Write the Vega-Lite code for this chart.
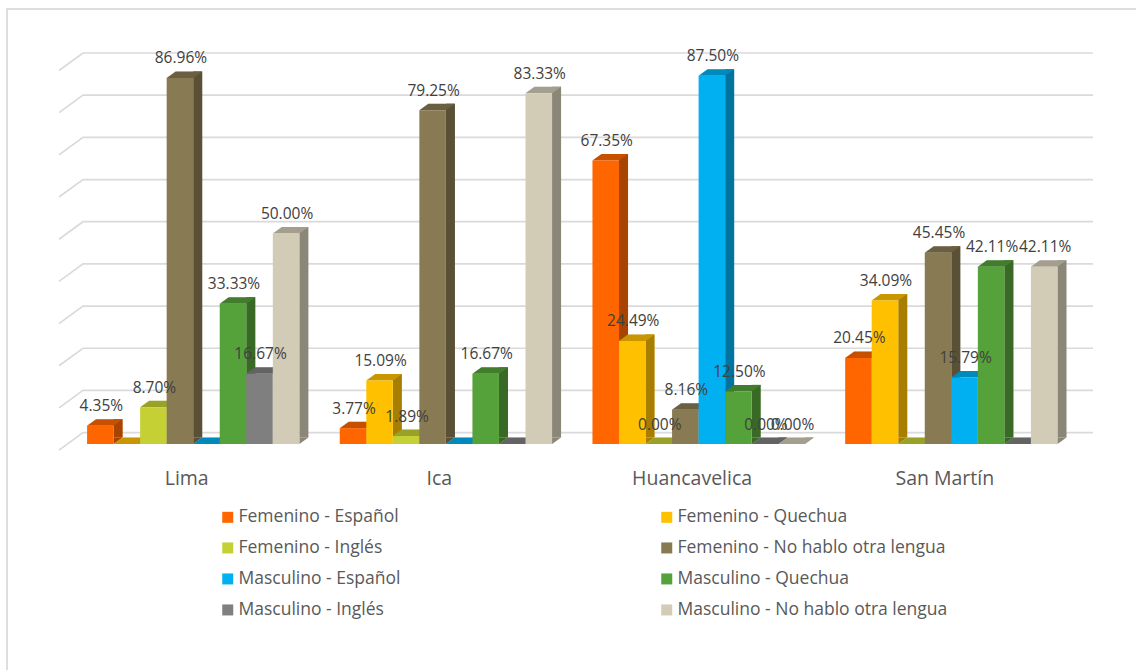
{
  "$schema": "https://vega.github.io/schema/vega-lite/v6.json",
  "autosize": {"type": "none"},
  "padding": {"left": 7, "top": 9, "right": 0, "bottom": 0},
  "width": 1131,
  "height": 663,
  "background": "#FFFFFF",
  "config": {
    "view": {"stroke": "#DEDEDE", "strokeWidth": 2},
    "font": "Open Sans"
  },
  "layer": [
    {
      "data": {"values": [
        {"nivel": 0, "pared": 0, "altura": -4.15}, {"nivel": 0, "pared": 24, "altura": 0}, {"nivel": 0, "pared": 1034, "altura": 0},
        {"nivel": 10, "pared": 0, "altura": 5.85}, {"nivel": 10, "pared": 24, "altura": 10}, {"nivel": 10, "pared": 1034, "altura": 10},
        {"nivel": 20, "pared": 0, "altura": 15.85}, {"nivel": 20, "pared": 24, "altura": 20}, {"nivel": 20, "pared": 1034, "altura": 20},
        {"nivel": 30, "pared": 0, "altura": 25.85}, {"nivel": 30, "pared": 24, "altura": 30}, {"nivel": 30, "pared": 1034, "altura": 30},
        {"nivel": 40, "pared": 0, "altura": 35.85}, {"nivel": 40, "pared": 24, "altura": 40}, {"nivel": 40, "pared": 1034, "altura": 40},
        {"nivel": 50, "pared": 0, "altura": 45.85}, {"nivel": 50, "pared": 24, "altura": 50}, {"nivel": 50, "pared": 1034, "altura": 50},
        {"nivel": 60, "pared": 0, "altura": 55.85}, {"nivel": 60, "pared": 24, "altura": 60}, {"nivel": 60, "pared": 1034, "altura": 60},
        {"nivel": 70, "pared": 0, "altura": 65.85}, {"nivel": 70, "pared": 24, "altura": 70}, {"nivel": 70, "pared": 1034, "altura": 70},
        {"nivel": 80, "pared": 0, "altura": 75.85}, {"nivel": 80, "pared": 24, "altura": 80}, {"nivel": 80, "pared": 1034, "altura": 80},
        {"nivel": 90, "pared": 0, "altura": 85.85}, {"nivel": 90, "pared": 24, "altura": 90}, {"nivel": 90, "pared": 1034, "altura": 90}
      ]},
      "mark": {"type": "line", "color": "#DADADA", "strokeWidth": 1.7, "clip": false},
      "encoding": {
        "x": {"field": "pared", "type": "quantitative", "axis": null, "scale": {"domain": [0, 1034], "range": [52, 1086]}},
        "y": {"field": "altura", "type": "quantitative", "axis": null, "scale": {"domain": [0, 90], "range": [423.6, 44]}},
        "detail": {"field": "nivel"},
        "order": {"field": "pared"}
      }
    },
    {
      "data": {"values": [
        {"region": "Lima", "serie": "Femenino - Español", "valor": 0.0435, "rotulado": true},
        {"region": "Lima", "serie": "Femenino - Quechua", "valor": 0, "rotulado": false},
        {"region": "Lima", "serie": "Femenino - Inglés", "valor": 0.087, "rotulado": true},
        {"region": "Lima", "serie": "Femenino - No hablo otra lengua", "valor": 0.8696, "rotulado": true},
        {"region": "Lima", "serie": "Masculino - Español", "valor": 0, "rotulado": false},
        {"region": "Lima", "serie": "Masculino - Quechua", "valor": 0.3333, "rotulado": true},
        {"region": "Lima", "serie": "Masculino - Inglés", "valor": 0.1667, "rotulado": true},
        {"region": "Lima", "serie": "Masculino - No hablo otra lengua", "valor": 0.5, "rotulado": true},
        {"region": "Ica", "serie": "Femenino - Español", "valor": 0.0377, "rotulado": true},
        {"region": "Ica", "serie": "Femenino - Quechua", "valor": 0.1509, "rotulado": true},
        {"region": "Ica", "serie": "Femenino - Inglés", "valor": 0.0189, "rotulado": true},
        {"region": "Ica", "serie": "Femenino - No hablo otra lengua", "valor": 0.7925, "rotulado": true},
        {"region": "Ica", "serie": "Masculino - Español", "valor": 0, "rotulado": false},
        {"region": "Ica", "serie": "Masculino - Quechua", "valor": 0.1667, "rotulado": true},
        {"region": "Ica", "serie": "Masculino - Inglés", "valor": 0, "rotulado": false},
        {"region": "Ica", "serie": "Masculino - No hablo otra lengua", "valor": 0.8333, "rotulado": true},
        {"region": "Huancavelica", "serie": "Femenino - Español", "valor": 0.6735, "rotulado": true},
        {"region": "Huancavelica", "serie": "Femenino - Quechua", "valor": 0.2449, "rotulado": true},
        {"region": "Huancavelica", "serie": "Femenino - Inglés", "valor": 0, "rotulado": true},
        {"region": "Huancavelica", "serie": "Femenino - No hablo otra lengua", "valor": 0.0816, "rotulado": true},
        {"region": "Huancavelica", "serie": "Masculino - Español", "valor": 0.875, "rotulado": true},
        {"region": "Huancavelica", "serie": "Masculino - Quechua", "valor": 0.125, "rotulado": true},
        {"region": "Huancavelica", "serie": "Masculino - Inglés", "valor": 0, "rotulado": true},
        {"region": "Huancavelica", "serie": "Masculino - No hablo otra lengua", "valor": 0, "rotulado": true},
        {"region": "San Martín", "serie": "Femenino - Español", "valor": 0.2045, "rotulado": true},
        {"region": "San Martín", "serie": "Femenino - Quechua", "valor": 0.3409, "rotulado": true},
        {"region": "San Martín", "serie": "Femenino - Inglés", "valor": 0, "rotulado": false},
        {"region": "San Martín", "serie": "Femenino - No hablo otra lengua", "valor": 0.4545, "rotulado": true},
        {"region": "San Martín", "serie": "Masculino - Español", "valor": 0.1579, "rotulado": true},
        {"region": "San Martín", "serie": "Masculino - Quechua", "valor": 0.4211, "rotulado": true},
        {"region": "San Martín", "serie": "Masculino - Inglés", "valor": 0, "rotulado": false},
        {"region": "San Martín", "serie": "Masculino - No hablo otra lengua", "valor": 0.4211, "rotulado": true}
      ]},
      "encoding": {
        "x": {
          "field": "region",
          "type": "nominal",
          "title": null,
          "sort": ["Lima", "Ica", "Huancavelica", "San Martín"],
          "scale": {"domain": ["Lima", "Ica", "Huancavelica", "San Martín"], "range": [59.85, 1070.65], "paddingInner": 0.16, "paddingOuter": 0.08},
          "axis": {"orient": "bottom", "offset": -194, "domain": false, "ticks": false, "grid": false, "labelAngle": 0, "labelPadding": 0, "labelBaseline": "middle", "labelFontSize": 19.5, "labelColor": "#595959", "labelFont": "Open Sans", "labelOffset": -6.5}
        },
        "y": {"field": "valor", "type": "quantitative", "axis": null, "scale": {"domain": [0, 0.9], "range": [435, 56.1]}}
      },
      "layer": [
        {
          "encoding": {
            "xOffset": {
              "field": "serie",
              "type": "nominal",
              "scale": {
                "domain": ["Femenino - Español", "Femenino - Quechua", "Femenino - Inglés", "Femenino - No hablo otra lengua", "Masculino - Español", "Masculino - Quechua", "Masculino - Inglés", "Masculino - No hablo otra lengua"],
                "range": [17.8, 230.07], "paddingInner": 0, "paddingOuter": 0
              }
            },
            "y2": {"datum": 0}
          },
          "layer": [
            {
              "mark": {"type": "rule", "strokeWidth": 9, "opacity": 1, "yOffset": -6.5, "y2Offset": -6.5, "clip": false},
              "encoding": {"color": {"field": "serie"}}
            },
            {
              "mark": {"type": "rule", "strokeWidth": 9, "yOffset": -6.5, "y2Offset": -6.5, "color": "#000000", "opacity": 0.34}
            }
          ]
        },
        {
          "encoding": {
            "xOffset": {
              "field": "serie",
              "type": "nominal",
              "scale": {
                "domain": ["Femenino - Español", "Femenino - Quechua", "Femenino - Inglés", "Femenino - No hablo otra lengua", "Masculino - Español", "Masculino - Quechua", "Masculino - Inglés", "Masculino - No hablo otra lengua"],
                "paddingInner": 0, "paddingOuter": 0
              }
            }
          },
          "layer": [
            {
              "mark": {"type": "point", "filled": true, "opacity": 1, "size": 4, "shape": "M13.3,0L22.3,-6.5L13.3,-6.5Z"},
              "encoding": {"y": {"datum": 0}, "color": {"field": "serie"}}
            },
            {
              "mark": {"type": "point", "filled": true, "opacity": 0.34, "size": 4, "color": "#000000", "shape": "M13.3,0L22.3,-6.5L13.3,-6.5Z"},
              "encoding": {"y": {"datum": 0}}
            },
            {
              "mark": {"type": "point", "filled": true, "opacity": 1, "size": 4, "shape": "M-13.3,0L-4.3,-6.5L22.3,-6.5L13.3,0Z"},
              "encoding": {"color": {"field": "serie"}}
            },
            {
              "mark": {"type": "point", "filled": true, "opacity": 0.22, "size": 4, "color": "#000000", "shape": "M-13.3,0L-4.3,-6.5L22.3,-6.5L13.3,0Z"}
            },
            {
              "mark": {"type": "bar", "clip": false},
              "encoding": {
                "color": {
                  "field": "serie",
                  "type": "nominal",
                  "scale": {
                    "domain": ["Femenino - Español", "Femenino - Quechua", "Femenino - Inglés", "Femenino - No hablo otra lengua", "Masculino - Español", "Masculino - Quechua", "Masculino - Inglés", "Masculino - No hablo otra lengua"],
                    "range": ["#FF6600", "#FFC000", "#C4D033", "#887A52", "#00B0F0", "#55A13A", "#7F7F7F", "#D2CBB6"]
                  },
                  "legend": {
                    "orient": "none", "direction": "horizontal", "legendX": 212, "legendY": 499.2, "columns": 2, "title": null,
                    "symbolType": "square", "symbolSize": 121, "symbolStrokeWidth": 0, "symbolOpacity": 1,
                    "labelFont": "Open Sans", "labelFontSize": 17.5, "labelColor": "#595959", "labelLimit": 400,
                    "columnPadding": 257, "rowPadding": 12, "labelOffset": 2, "gridAlign": "each"
                  }
                }
              }
            },
            {
              "transform": [{"filter": "datum.rotulado"}],
              "mark": {"type": "text", "dy": -19.5, "dx": 1, "fontSize": 15.5, "color": "#404040", "font": "Open Sans"},
              "encoding": {"text": {"field": "valor", "type": "quantitative", "format": ".2%"}}
            }
          ]
        }
      ],
      "resolve": {"scale": {"xOffset": "independent"}}
    }
  ],
  "resolve": {"scale": {"x": "independent", "y": "independent"}}
}
